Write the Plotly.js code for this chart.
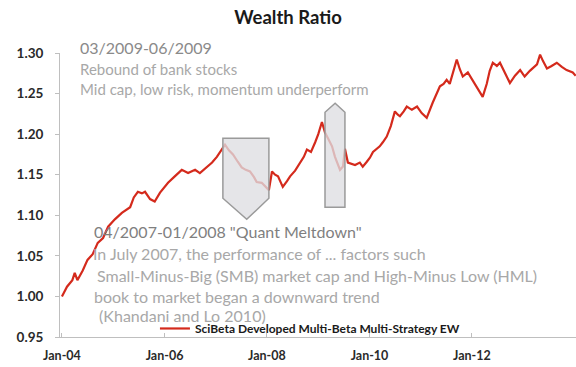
<!DOCTYPE html>
<html>
<head>
<meta charset="utf-8">
<script src="https://cdn.plot.ly/plotly-3.0.1.min.js"></script>
<style>html,body{margin:0;padding:0;background:#fff;}#chart{width:576px;height:367px;}</style>
</head>
<body>
<div id="chart"></div>
<script>
// Series
const dates = [
"2004-01-01","2004-02-06","2004-03-15","2004-04-01","2004-04-20","2004-05-28","2004-07-01","2004-08-07","2004-09-12","2004-10-20","2004-11-25",
"2005-01-12","2005-03-03","2005-05-01","2005-05-27","2005-06-25","2005-07-24","2005-08-15","2005-09-20","2005-10-23","2005-11-30",
"2006-01-26","2006-03-15","2006-05-04","2006-06-18","2006-08-07","2006-09-10","2006-10-23","2006-12-06",
"2007-01-09","2007-02-14","2007-03-08","2007-04-05","2007-05-04","2007-06-07","2007-07-05","2007-08-03","2007-09-02","2007-10-01","2007-10-20","2007-11-25",
"2008-01-01","2008-01-15","2008-02-06","2008-02-28","2008-03-20","2008-04-23","2008-05-23","2008-06-14","2008-07-20","2008-08-22","2008-09-20","2008-10-12","2008-11-10","2008-12-10",
"2009-01-01","2009-01-27","2009-02-18","2009-03-11","2009-04-09","2009-04-30","2009-05-15","2009-06-05","2009-06-26","2009-07-10","2009-07-31","2009-08-28","2009-09-20","2009-10-24","2009-11-14","2009-12-13",
"2010-01-04","2010-01-26","2010-02-24","2010-03-15","2010-04-06","2010-05-04","2010-06-02","2010-07-01","2010-07-22","2010-08-06","2010-09-02","2010-09-24","2010-10-30","2010-12-06",
"2011-01-08","2011-02-13","2011-03-28","2011-04-26","2011-05-18","2011-06-13","2011-07-05","2011-07-27","2011-08-24","2011-09-15","2011-10-07","2011-10-28","2011-12-03",
"2012-01-01","2012-02-05","2012-02-27","2012-03-18","2012-04-16","2012-05-07","2012-05-29","2012-06-27","2012-07-19","2012-08-23","2012-09-28","2012-11-03","2012-12-10",
"2013-01-11","2013-02-17","2013-04-09","2013-05-01","2013-05-22","2013-06-19","2013-07-22","2013-08-28","2013-10-03","2013-11-06","2013-12-20","2014-01-10"
];
const wealthRatio = [
1.000,1.012,1.020,1.029,1.020,1.032,1.045,1.052,1.066,1.072,1.086,
1.095,1.103,1.110,1.122,1.129,1.127,1.129,1.120,1.117,1.128,
1.140,1.148,1.156,1.152,1.156,1.152,1.158,1.165,
1.172,1.181,1.187,1.180,1.175,1.166,1.159,1.156,1.154,1.147,1.141,1.140,
1.134,1.131,1.154,1.150,1.148,1.135,1.142,1.148,1.155,1.165,1.172,1.181,1.178,1.190,
1.200,1.215,1.202,1.195,1.185,1.172,1.165,1.156,1.160,1.182,1.165,1.163,1.162,1.165,1.160,1.166,
1.171,1.178,1.182,1.185,1.190,1.197,1.210,1.228,1.224,1.222,1.228,1.234,1.230,1.234,
1.226,1.220,1.239,1.250,1.259,1.262,1.267,1.262,1.280,1.292,1.280,1.271,1.276,
1.268,1.259,1.252,1.246,1.262,1.278,1.288,1.284,1.288,1.276,1.263,1.272,1.279,
1.271,1.278,1.286,1.298,1.290,1.281,1.284,1.288,1.283,1.279,1.276,1.272
];
const seriesName = "SciBeta Developed Multi-Beta Multi-Strategy EW";
const xTickVals = ["2004-01-01","2006-01-01","2008-01-01","2010-01-01","2012-01-01"];
const xTickText = ["Jan-04","Jan-06","Jan-08","Jan-10","Jan-12"];

const trace = {
  x: dates, y: wealthRatio, type: "scatter", mode: "lines", name: seriesName,
  line: {color: "#d42a1c", width: 2.2}
};

const boxFill = "rgba(222,222,226,0.78)";
const boxLine = {color: "#9a9a9a", width: 1.5};
const layout = {
  width: 576, height: 367,
  margin: {l: 60, r: 0, t: 53, b: 30},
  paper_bgcolor: "#fff", plot_bgcolor: "#fff",
  font: {family: "Lato, 'Open Sans', sans-serif", color: "#404040"},
  title: {text: "<b>Wealth Ratio</b>", x: 0.5, xanchor: "center", y: 0.952, yanchor: "middle",
          font: {size: 18.5, color: "#1a1a1a", family: "Lato, sans-serif"}},
  xaxis: {
    type: "date", range: ["2003-12-18", "2014-01-12"],
    tickvals: xTickVals, ticktext: xTickText,
    showgrid: false, zeroline: false, showline: true, linecolor: "#bfbfbf", linewidth: 1,
    ticks: "inside", ticklen: 4, tickcolor: "#bfbfbf",
    tickfont: {size: 12.5, color: "#2a2a2a", family: "Lato, sans-serif", weight: "bold"},
    ticklabelstandoff: 7
  },
  yaxis: {
    range: [0.95, 1.30], dtick: 0.05, tick0: 0.95, tickformat: ".2f",
    showgrid: false, zeroline: false, showline: true, linecolor: "#bfbfbf", linewidth: 1,
    ticks: "outside", ticklen: 4, tickcolor: "#bfbfbf",
    tickfont: {size: 13.5, color: "#2a2a2a", family: "Lato, sans-serif", weight: "bold"},
    ticklabelstandoff: 9
  },
  showlegend: true,
  legend: {orientation: "h", x: 0.184, xanchor: "left", y: 0.03, yanchor: "middle",
           bgcolor: "rgba(0,0,0,0)", font: {size: 12, color: "#1a1a1a", family: "Lato, sans-serif", weight: "bold"},
           itemwidth: 30},
  shapes: [
    {type: "path", xref: "x", yref: "y", layer: "above",
     path: "M2007-02-21,1.195 L2008-01-15,1.195 L2008-01-15,1.121 L2007-08-10,1.095 L2007-02-21,1.121 Z",
     fillcolor: boxFill, line: boxLine},
    {type: "path", xref: "x", yref: "y", layer: "above",
     path: "M2009-02-18,1.110 L2009-02-18,1.227 L2009-05-01,1.238 L2009-07-10,1.227 L2009-07-10,1.110 Z",
     fillcolor: boxFill, line: boxLine}
  ],
  annotations: []
};

const upHead = {size: 16, color: "#8a8a8a", family: "Lato, sans-serif"};
const upBody = {size: 15, color: "#a8a8a8", family: "Lato, sans-serif"};
const lowHead = {size: 16, color: "#7f7f7f", family: "Lato, sans-serif"};
const lowBody = {size: 16, color: "#a8a8a8", family: "Lato, sans-serif"};
function note(text, xpx, ypx, font) {
  layout.annotations.push({text: text, xref: "paper", yref: "paper",
    x: (xpx - 60) / 516, y: (337 - ypx) / 284, xanchor: "left", yanchor: "middle",
    showarrow: false, font: font});
}
note("03/2009-06/2009", 78, 48, upHead);
note("Rebound of bank stocks", 78, 69, upBody);
note("Mid cap, low risk, momentum underperform", 78, 89, upBody);
note("04/2007-01/2008 \"Quant Meltdown\"", 92, 231, lowHead);
note("In July 2007, the performance of ... factors such", 91, 253, lowBody);
note("Small-Minus-Big (SMB) market cap and High-Minus Low (HML)", 95, 275, lowBody);
note("book to market began a downward trend", 92, 296, lowBody);
note(" (Khandani and Lo 2010)", 93, 315, lowBody);

Plotly.newPlot("chart", [trace], layout, {displayModeBar: false, staticPlot: true});
</script>
</body>
</html>
